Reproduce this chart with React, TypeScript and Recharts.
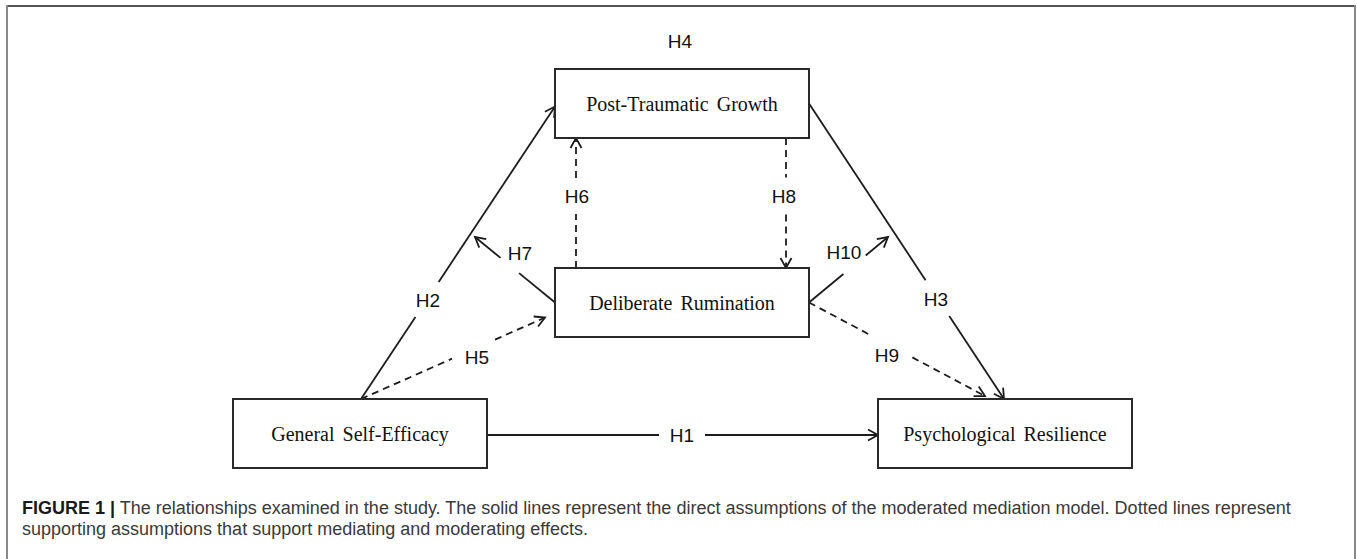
import React from 'react';
import { ReferenceLine, Scatter, ScatterChart, XAxis, YAxis } from 'recharts';

const CHART_W = 1357;
const CHART_H = 559;

// constructs in the model (box centres, layout units)
const nodeNames = ['Post-Traumatic Growth', 'Deliberate Rumination', 'General Self-Efficacy', 'Psychological Resilience'];
const nodeX = [682, 682, 360, 1005];
const nodeY = [103.5, 302.5, 433.5, 433.5];

// hypothesis labels
const hypNames = ['H1', 'H2', 'H3', 'H4', 'H5', 'H6', 'H7', 'H8', 'H9', 'H10'];
const hypX = [682, 428, 936, 680, 477, 577, 520, 784, 887, 844];
const hypY = [435, 300, 299, 41, 357, 196, 253, 196, 355, 252];

// paths: which hypothesis, from node/side to node/side (or a free point for moderation arrows)
const pathHyp = ['H1', 'H2', 'H3', 'H5', 'H6', 'H7', 'H8', 'H9', 'H10'];
const pathFrom = ['2:right', '2:top', '0:right', '2:top', '1:top', '1:left', '0:bottom', '1:right', '1:right'];
const pathTo = ['3:left', '0:left', '3:top', '1:left', '0:bottom', '475,237', '1:top', '3:top', '888,237'];
const pathDashed = [false, false, false, true, true, false, true, true, false];

// style / layout constants
const BOX_W = 254;
const BOX_H = 69;
const INK = '#1c1c1c';
const anchorShift: Record<string, [number, number]> = {
  'H2:from': [1, 0], 'H2:to': [0, 3],
  'H3:to': [-1, 0],
  'H5:from': [1, 0], 'H5:to': [-10, 15],
  'H6:from': [-106, 0], 'H6:to': [-106, 0],
  'H8:from': [104, 0], 'H8:to': [104, 0],
  'H9:to': [-20, -3],
  'H1:from': [0, 1.5], 'H1:to': [0, 1.5],
};
const gapLen: Record<string, number> = {
  H1: 46, H2: 42, H3: 43, H5: 47, H6: 36, H7: 24, H8: 37, H9: 47, H10: 29,
};

function anchor(spec: string, key: string): [number, number] {
  const shift = anchorShift[key] || [0, 0];
  if (spec.includes(',')) {
    const [a, b] = spec.split(',').map(Number);
    return [a + shift[0], b + shift[1]];
  }
  const [idx, side] = spec.split(':');
  const i = Number(idx);
  let x = nodeX[i];
  let y = nodeY[i];
  if (side === 'left') x -= BOX_W / 2;
  if (side === 'right') x += BOX_W / 2;
  if (side === 'top') y -= BOX_H / 2;
  if (side === 'bottom') y += BOX_H / 2;
  return [x + shift[0], y + shift[1]];
}

const nodeData = nodeNames.map((name, i) => ({ name, x: nodeX[i], y: nodeY[i] }));
const labelData = hypNames.map((name, i) => ({ name, x: hypX[i], y: hypY[i] }));

const paths = pathHyp.map((h, i) => {
  const a = anchor(pathFrom[i], `${h}:from`);
  const b = anchor(pathTo[i], `${h}:to`);
  const li = hypNames.indexOf(h);
  const dx = b[0] - a[0];
  const dy = b[1] - a[1];
  const t = ((hypX[li] - a[0]) * dx + (hypY[li] - a[1]) * dy) / (dx * dx + dy * dy);
  return { h, a, b, t, dashed: pathDashed[i] };
});

function makeEdgeShape(t: number, gap: number, dashed: boolean) {
  return (p: any) => {
    const { x1, y1, x2, y2 } = p;
    const dx = x2 - x1;
    const dy = y2 - y1;
    const len = Math.hypot(dx, dy) || 1;
    const ux = dx / len;
    const uy = dy / len;
    const c = t * len;
    const g1 = c - gap / 2;
    const g2 = c + gap / 2;
    const ah = 10;
    const aw = 5.5;
    const dash = dashed ? '7 5' : undefined;
    return (
      <g>
        <line x1={x1} y1={y1} x2={x1 + ux * g1} y2={y1 + uy * g1} stroke={INK} strokeWidth={1.8} strokeDasharray={dash} />
        <line x1={x1 + ux * g2} y1={y1 + uy * g2} x2={x2} y2={y2} stroke={INK} strokeWidth={1.8} strokeDasharray={dash} />
        <polyline
          points={`${x2 - ux * ah - uy * aw},${y2 - uy * ah + ux * aw} ${x2},${y2} ${x2 - ux * ah + uy * aw},${y2 - uy * ah - ux * aw}`}
          fill="none"
          stroke={INK}
          strokeWidth={1.8}
        />
      </g>
    );
  };
}

const NodeBox = (p: any) => (
  <g>
    <rect x={p.cx - BOX_W / 2} y={p.cy - BOX_H / 2} width={BOX_W} height={BOX_H} fill="#fff" stroke="#2a2a2a" strokeWidth={2} />
    <text x={p.cx} y={p.cy} textAnchor="middle" dominantBaseline="central" fontFamily="'Liberation Serif', 'Times New Roman', serif" fontSize={20} fill="#111" wordSpacing={3}>
      {p.payload.name}
    </text>
  </g>
);

const HypLabel = (p: any) => (
  <text x={p.cx} y={p.cy} textAnchor="middle" dominantBaseline="central" fontFamily="'Liberation Sans', Arial, sans-serif" fontSize={19} fill="#111">
    {p.payload.name}
  </text>
);

export default function App() {
  return (
    <div style={{ position: 'absolute', left: 0, top: 0, width: CHART_W, height: CHART_H, background: '#fff', overflow: 'hidden' }}>
      <ScatterChart width={CHART_W} height={CHART_H} margin={{ top: 0, right: 0, bottom: 0, left: 0 }}>
        <XAxis type="number" dataKey="x" domain={[0, CHART_W]} hide allowDataOverflow />
        <YAxis type="number" dataKey="y" domain={[0, CHART_H]} reversed hide allowDataOverflow />
        <Scatter data={nodeData} shape={NodeBox} isAnimationActive={false} />
        {paths.map((e) => (
          <ReferenceLine
            key={e.h}
            segment={[{ x: e.a[0], y: e.a[1] }, { x: e.b[0], y: e.b[1] }]}
            ifOverflow="visible"
            shape={makeEdgeShape(e.t, gapLen[e.h], e.dashed)}
          />
        ))}
        <Scatter data={labelData} shape={HypLabel} isAnimationActive={false} />
      </ScatterChart>
      <div style={{ position: 'absolute', left: 6, top: 5, width: 1350, height: 2, background: '#555' }} />
      <div style={{ position: 'absolute', left: 6, top: 5, width: 2, height: 560, background: '#888' }} />
      <div style={{ position: 'absolute', left: 1354, top: 5, width: 2, height: 560, background: '#888' }} />
      <div
        style={{
          position: 'absolute',
          left: 22,
          top: 498,
          width: 1325,
          whiteSpace: 'nowrap',
          fontFamily: "'Liberation Sans', Arial, sans-serif",
          fontSize: 18,
          lineHeight: '21px',
          color: '#3a3a3a',
        }}
      >
        <span style={{ fontWeight: 700, color: '#1a1a1a' }}>FIGURE 1 |</span> The relationships examined in the study. The solid lines represent the direct assumptions of the moderated mediation model. Dotted lines represent
        <br />
        supporting assumptions that support mediating and moderating effects.
      </div>
    </div>
  );
}
